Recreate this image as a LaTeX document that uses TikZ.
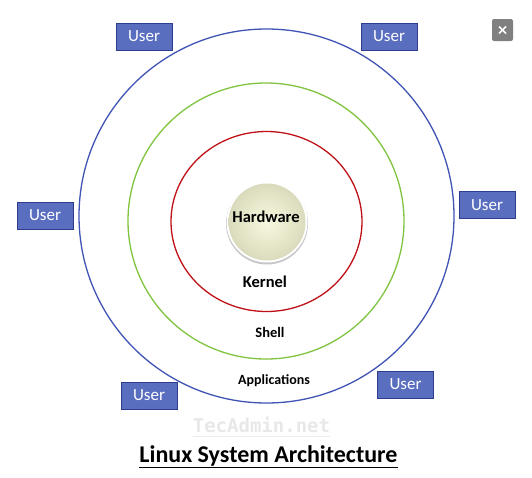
\documentclass[tikz,border=0pt]{standalone}
\usepackage{fontspec}
\setmainfont{Carlito}
\newfontfamily\wmfont{DejaVu Sans Mono}
\usetikzlibrary{shapes.geometric}
\definecolor{ringblue}{RGB}{64,84,180}
\definecolor{ringgreen}{RGB}{128,196,64}
\definecolor{ringred}{RGB}{192,16,24}
\definecolor{userfill}{RGB}{90,110,192}
\definecolor{userdraw}{RGB}{45,60,140}
\definecolor{hwin}{RGB}{248,248,224}
\definecolor{hwmid}{RGB}{222,222,192}
\definecolor{hwout}{RGB}{180,180,150}
\pgfdeclareradialshading{hwshade}{\pgfpoint{0bp}{0bp}}{color(0bp)=(hwin); color(22bp)=(hwmid); color(50bp)=(hwout); color(100bp)=(hwout)}
\tikzset{
  userbox/.style={draw=userdraw, line width=1pt, fill=userfill, text=white,
    minimum width=56pt, minimum height=27pt, inner sep=0pt,
    font=\fontsize{17}{17}\selectfont},
  ring/.style={draw=#1, line width=1.3pt, ellipse, inner sep=0pt},
  lbl/.style={font=\bfseries\fontsize{#1}{#1}\selectfont, inner sep=0pt}
}
\begin{document}
\begin{tikzpicture}[x=1pt,y=-1pt]
\useasboundingbox[fill=white] (0,0) rectangle (532,477);
% rings
\node[ring=ringblue, minimum width=375pt, minimum height=374pt] (appring) at (266.5,216) {};
\node[ring=ringgreen, minimum width=276pt, minimum height=276pt] (shellring) at (266,221) {};
\node[ring=ringred, minimum width=191pt, minimum height=180pt] (kernelring) at (266.5,221.5) {};
% hardware
\fill[black!22] (267,223.5) circle (41);
\fill[white] (267,222) circle (40.5);
\shade[shading=hwshade] (267,222) circle (38.5);
\node[circle, minimum size=77pt, inner sep=0pt] (hwcirc) at (267,222) {};
\node[lbl=16.5] (hw) at (266,217) {Hardware};
\node[lbl=16.5] (kernel) at (265,282) {Kernel};
\node[lbl=14.5] (shell) at (270,332) {Shell};
\node[lbl=14] (apps) at (274,381) {Applications};
% users
\node[userbox] (u1) at (144,36.5) {User};
\node[userbox] (u2) at (389,36.5) {User};
\node[userbox] (u3) at (45,215.5) {User};
\node[userbox] (u4) at (487,205) {User};
\node[userbox] (u5) at (149,395.5) {User};
\node[userbox] (u6) at (405.5,384.5) {User};
% close button
\node[fill=black!50, rounded corners=2pt, minimum width=21pt, minimum height=22pt, inner sep=0pt] (closebtn) at (502.5,30) {};
\draw[white, line width=1.6pt] (closebtn.center) ++(-3.5,-3.5) -- ++(7,7);
\draw[white, line width=1.6pt] (closebtn.center) ++(-3.5,3.5) -- ++(7,-7);
% watermark
\node[font=\wmfont\bfseries\fontsize{19}{19}\selectfont, text=black!9, inner sep=0pt] (wm) at (261.5,425) {TecAdmin.net};
\draw[black!7, line width=0.8pt] (wm.south west) ++(0,3) -- ++(137,0);
% title
\node[font=\bfseries\fontsize{24}{24}\selectfont, inner sep=0pt, anchor=base] (title) at (268.5,462) {\underline{Linux System Architecture}};
\end{tikzpicture}
\end{document}
